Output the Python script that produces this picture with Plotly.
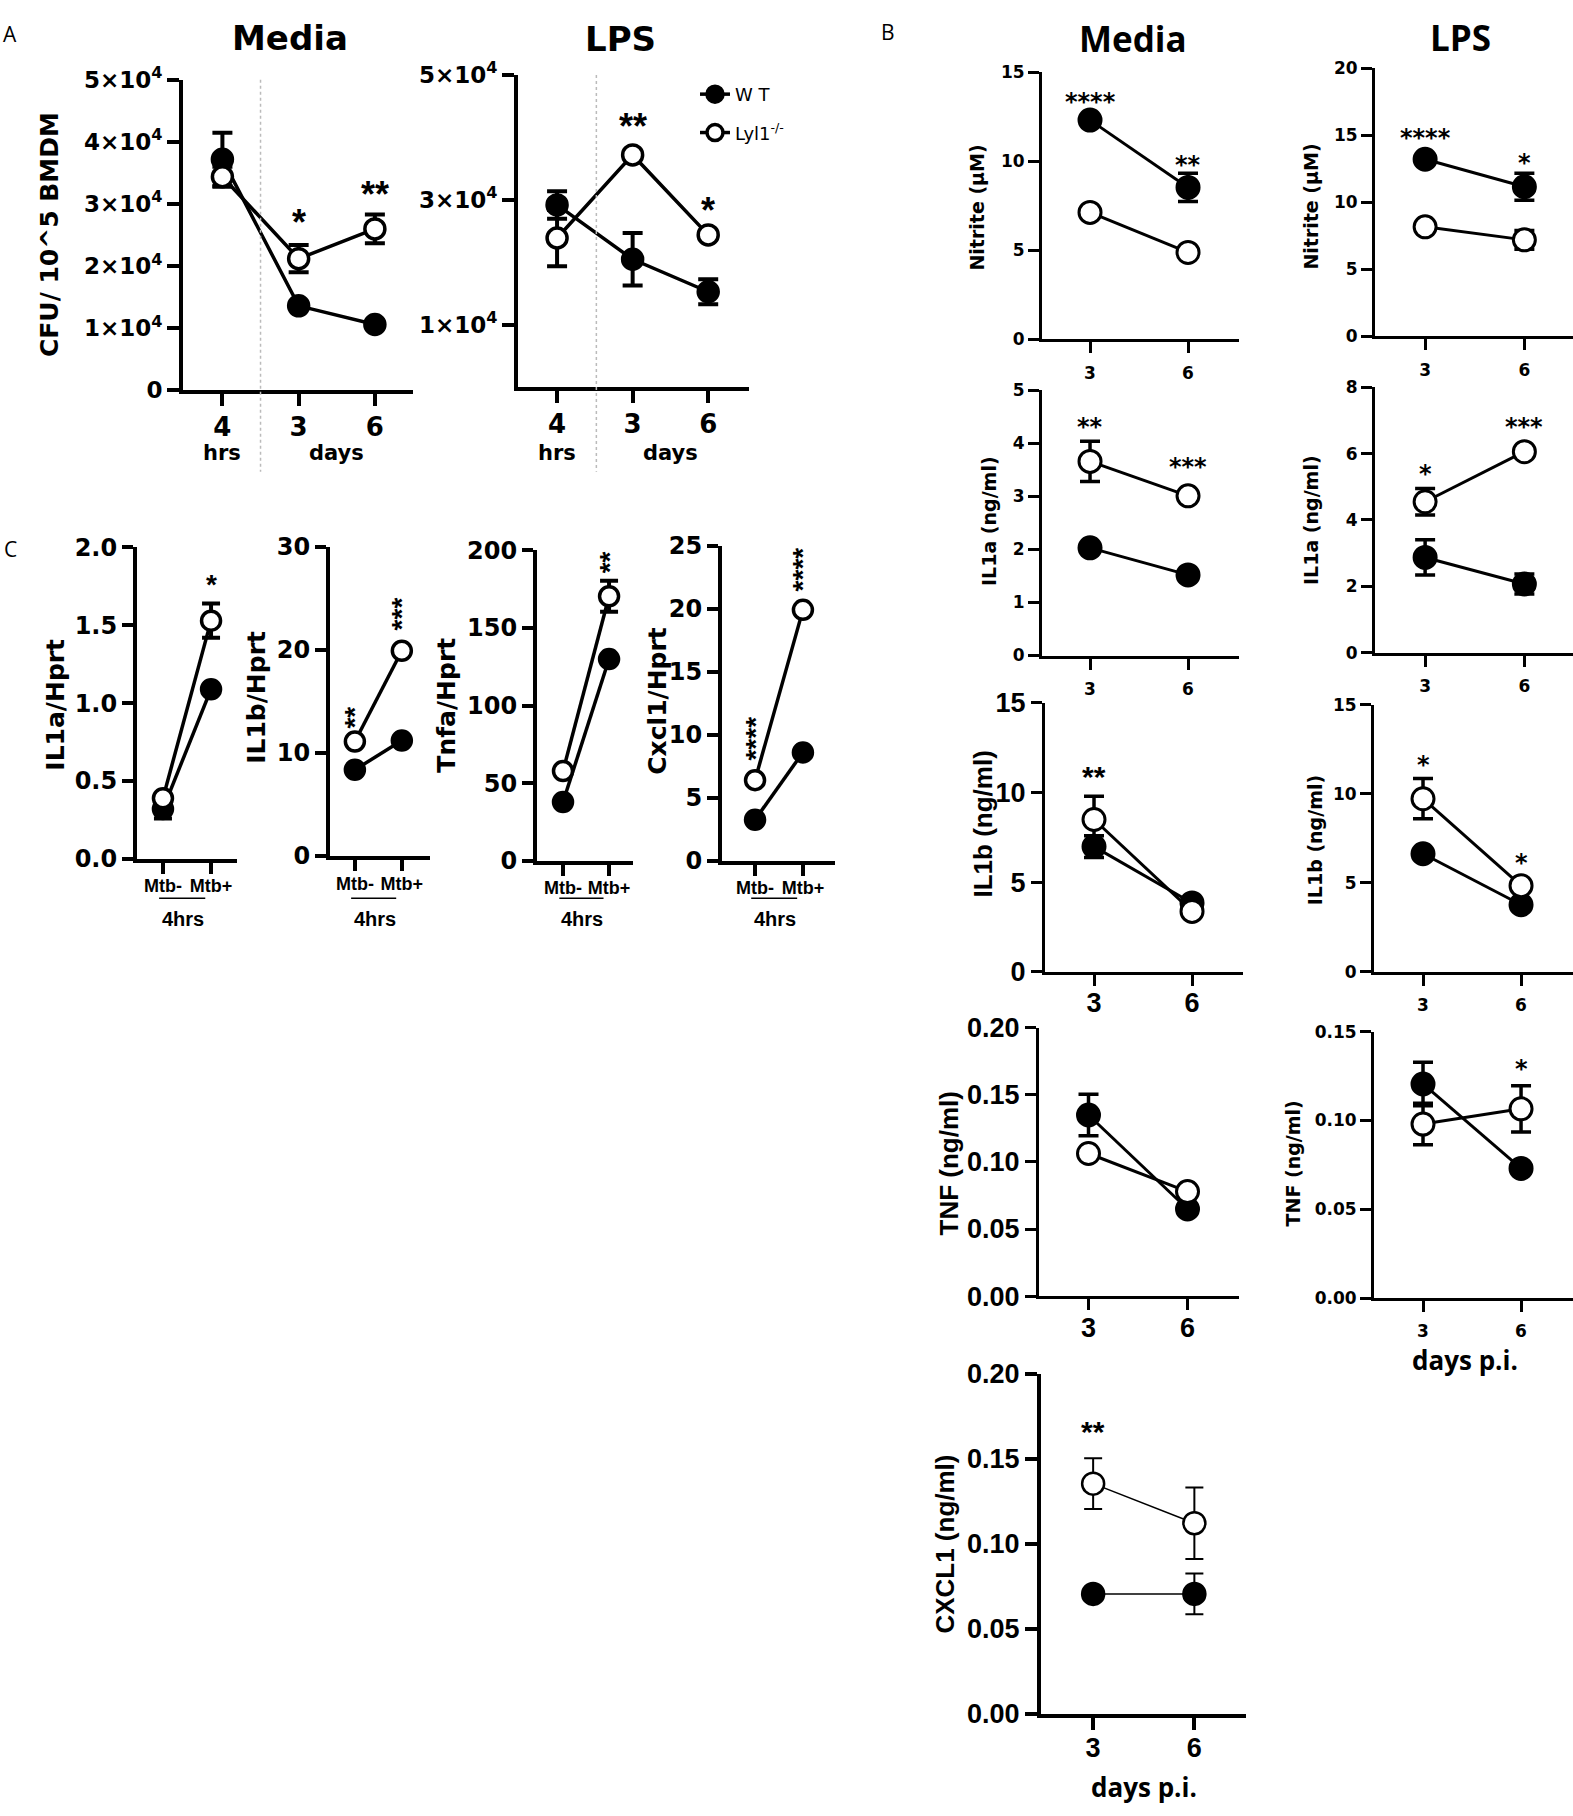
import plotly.graph_objects as go

W, H = 1573, 1816
F1 = "Liberation Sans"
FD = "DejaVu Sans"
F2 = "Open Sans"

# ---------------- data ----------------
# Panel A : CFU / 10^5 BMDM
a_ticks = ["4", "3", "6"]
a_media_wt = [37200, 13600, 10600]
a_media_wt_err = [4300, 0, 0]
a_media_ko = [34400, 21200, 26000]
a_media_ko_err = [1600, 2200, 2300]
a_lps_wt = [29200, 20500, 15300]
a_lps_wt_err = [2200, 4200, 2000]
a_lps_ko = [23900, 37200, 24400]
a_lps_ko_err = [4500, 0, 0]
a_media_yticks = [0, 10000, 20000, 30000, 40000, 50000]
a_lps_yticks = [10000, 30000, 50000]

# Panel C : gene expression / Hprt (4 hrs)
c_ticks = ["Mtb-", "Mtb+"]
c_il1a_wt = [0.32, 1.09]
c_il1a_wt_err = [0.06, 0]
c_il1a_ko = [0.39, 1.53]
c_il1a_ko_err = [0, 0.11]
c_il1b_wt = [8.35, 11.2]
c_il1b_ko = [11.1, 19.9]
c_tnfa_wt = [37.9, 130.0]
c_tnfa_ko = [57.9, 170.5]
c_tnfa_ko_err = [0, 10]
c_cxcl1_wt = [3.26, 8.6]
c_cxcl1_ko = [6.4, 19.9]

# Panel B : secreted mediators, days p.i.
b_ticks = ["3", "6"]
nit_media_wt = [12.3, 8.52]
nit_media_wt_err = [0, 0.79]
nit_media_ko = [7.12, 4.87]
nit_lps_wt = [13.2, 11.15]
nit_lps_wt_err = [0, 1.0]
nit_lps_ko = [8.16, 7.19]
nit_lps_ko_err = [0, 0.7]
il1a_media_wt = [2.03, 1.52]
il1a_media_ko = [3.66, 3.01]
il1a_media_ko_err = [0.38, 0]
il1a_lps_wt = [2.87, 2.07]
il1a_lps_wt_err = [0.53, 0.3]
il1a_lps_ko = [4.55, 6.06]
il1a_lps_ko_err = [0.4, 0]
il1b_media_wt = [6.98, 3.84]
il1b_media_wt_err = [0.6, 0]
il1b_media_ko = [8.49, 3.37]
il1b_media_ko_err = [1.3, 0]
il1b_lps_wt = [6.63, 3.77]
il1b_lps_ko = [9.72, 4.84]
il1b_lps_ko_err = [1.13, 0]
tnf_media_wt = [0.135, 0.0649]
tnf_media_wt_err = [0.0155, 0]
tnf_media_ko = [0.1063, 0.0779]
tnf_lps_wt = [0.1206, 0.073]
tnf_lps_wt_err = [0.0123, 0]
tnf_lps_ko = [0.098, 0.1066]
tnf_lps_ko_err = [0.0117, 0.013]
cxcl1_wt = [0.0704, 0.0704]
cxcl1_wt_err = [0, 0.012]
cxcl1_ko = [0.1353, 0.112]
cxcl1_ko_err = [0.015, 0.021]

series_names = ["W T", "Lyl1<sup>-/-</sup>"]

# ---------------- helpers ----------------
def fx(p):
    return p / W


def fy(p):
    return 1 - p / H


fig = go.Figure()
layout = {}
annotations = []
shapes = []

BIG = dict(lw=3.5, axw=4, ms=20, mlw=3.5, ew=4, cw=10, tl=12, tw=4)
MID = dict(lw=3.5, axw=4, ms=19, mlw=3.5, ew=4, cw=9, tl=11, tw=4)
SMALL = dict(lw=3, axw=3, ms=22, mlw=3, ew=3.5, cw=10, tl=11, tw=3)
THIN = dict(lw=1.5, axw=4, ms=22, mlw=2.5, ew=2, cw=9, tl=12, tw=4)

panel_count = [0]


def font(size, fam=FD, weight="bold"):
    return dict(family=fam, size=size, color="black", weight=weight)


def add_panel(xpx, ypx, xrange, yrange, xtext, ytickvals, yticktext,
              wt, wt_err, ko, ko_err, st, xfont, yfont, stars, star_font,
              star_angle=0, legend=False, standoff=0):
    panel_count[0] += 1
    n = panel_count[0]
    sfx = "" if n == 1 else str(n)
    xa, ya = "x" + sfx, "y" + sfx
    xs = list(range(len(wt)))
    for vals, errs in ((wt, wt_err), (ko, ko_err)):
        ex = [x for x, e in zip(xs, errs) if e > 0]
        ey = [v for v, e in zip(vals, errs) if e > 0]
        ee = [e for e in errs if e > 0]
        if ex:
            fig.add_trace(go.Scatter(
                x=ex, y=ey, mode="markers", xaxis=xa, yaxis=ya,
                marker=dict(size=1, opacity=0), showlegend=False, hoverinfo="skip",
                error_y=dict(type="data", array=ee, visible=True, color="black",
                             thickness=st["ew"], width=st["cw"]),
                cliponaxis=False))
    for i, (vals, fill) in enumerate(((wt, "black"), (ko, "white"))):
        fig.add_trace(go.Scatter(
            x=xs, y=vals, mode="lines+markers", xaxis=xa, yaxis=ya,
            name=series_names[i], legendgroup="g%d" % i,
            line=dict(color="black", width=st["lw"]),
            marker=dict(size=st["ms"], color=fill, symbol="circle",
                        line=dict(color="black", width=st["mlw"])),
            showlegend=legend, cliponaxis=False))
    layout["xaxis" + sfx] = dict(
        domain=[fx(xpx[0]), fx(xpx[1])], range=xrange, anchor=ya,
        tickvals=xs, ticktext=xtext, showline=True, linewidth=st["axw"],
        linecolor="black", ticks="outside", ticklen=st["tl"], tickwidth=st["tw"],
        tickcolor="black", showgrid=False, zeroline=False, fixedrange=True,
        tickfont=xfont, ticklabelstandoff=standoff)
    layout["yaxis" + sfx] = dict(
        domain=[fy(ypx[1]), fy(ypx[0])], range=yrange, anchor=xa,
        tickvals=ytickvals, ticktext=yticktext, showline=True, linewidth=st["axw"],
        linecolor="black", ticks="outside", ticklen=st["tl"], tickwidth=st["tw"],
        tickcolor="black", showgrid=False, zeroline=False, fixedrange=True,
        tickfont=yfont)
    for sx, sy, txt in stars:
        annotations.append(dict(x=sx, y=sy, xref=xa, yref=ya, text=txt,
                                showarrow=False, textangle=star_angle, font=star_font))
    return xa, ya


def text(x, y, t, fnt, angle=0, xref="paper", yref="paper"):
    annotations.append(dict(x=x, y=y, xref=xref, yref=yref, text=t, showarrow=False,
                            textangle=angle, xanchor="center", yanchor="middle",
                            font=fnt))


def sci(v):
    return "0" if v == 0 else "%d×10<sup>4</sup>" % round(v / 10000)


# ---------------- panel A ----------------
A_STAR = font(36, F1)
xa1, ya1 = add_panel((183, 413), (64, 380), [-0.517, 2.5], [0, 50000], a_ticks,
                     a_media_yticks, [sci(v) for v in a_media_yticks],
                     a_media_wt, a_media_wt_err, a_media_ko, a_media_ko_err, BIG,
                     font(26), font(23), [(1, 27000, "*"), (2, 31500, "**")], A_STAR,
                     legend=True, standoff=-2)
xa2, ya2 = add_panel((518, 749), (59, 377), [-0.517, 2.54], [0, 50000], a_ticks,
                     a_lps_yticks, [sci(v) for v in a_lps_yticks],
                     a_lps_wt, a_lps_wt_err, a_lps_ko, a_lps_ko_err, BIG,
                     font(26), font(23), [(1, 41800, "**"), (2, 28300, "*")], A_STAR,
                     standoff=-2)
for xa, top, xd in ((xa1, 64, 0.5), (xa2, 59, 0.52)):
    shapes.append(dict(type="line", xref=xa, yref="paper", x0=xd, x1=xd,
                       y0=fy(top), y1=fy(463),
                       line=dict(color="#bbbbbb", width=1.5, dash="dot")))
for xa in (xa1, xa2):
    text(0, fy(444), "hrs", font(21), xref=xa)
    text(1.5, fy(444), "days", font(21), xref=xa)
text(fx(49), fy(222), "CFU/ 10^5 BMDM", font(25), angle=-90)
text(fx(290), fy(21), "Media", font(34))
text(fx(620), fy(22), "LPS", font(34))
text(fx(10), fy(17), "A", font(21, F2, "normal"))

# ---------------- panel C ----------------
C_STAR = font(28, F1)
c_specs = [
    ((137, 237), (540, 857), [-0.54, 1.54], [0, 2], [0, 0.5, 1.0, 1.5, 2.0],
     ["0.0", "0.5", "1.0", "1.5", "2.0"], c_il1a_wt, c_il1a_wt_err, c_il1a_ko,
     c_il1a_ko_err, [(1, 1.76, "*")], 0, "IL1a/Hprt", 56, 700),
    ((330, 430), (539, 854), [-0.53, 1.6], [0, 30], [0, 10, 20, 30],
     ["0", "10", "20", "30"], c_il1b_wt, [0, 0], c_il1b_ko, [0, 0],
     [(0, 13.4, "**"), (1, 23.5, "***")], -90, "IL1b/Hprt", 257, 693),
    ((537, 633), (543, 859), [-0.565, 1.52], [0, 200], [0, 50, 100, 150, 200],
     ["0", "50", "100", "150", "200"], c_tnfa_wt, [0, 0], c_tnfa_ko, c_tnfa_ko_err,
     [(1, 192.4, "**")], -90, "Tnfa/Hprt", 447, 700),
    ((722, 835), (538, 859), [-0.69, 1.67], [0, 25], [0, 5, 10, 15, 20, 25],
     ["0", "5", "10", "15", "20", "25"], c_cxcl1_wt, [0, 0], c_cxcl1_ko, [0, 0],
     [(0, 9.7, "****"), (1, 23.1, "****")], -90, "Cxcl1/Hprt", 658, 696),
]
for (xp, yp, xr, yr, tv, tt, w, we, k, ke, st_, ang, lab, labx, laby) in c_specs:
    xa, ya = add_panel(xp, yp, xr, yr, c_ticks, tv, tt, w, we, k, ke, MID,
                       font(18, F1), font(24), st_, C_STAR, star_angle=ang, standoff=-3)
    shapes.append(dict(type="line", xref=xa, yref="paper", x0=-0.08, x1=0.88,
                       y0=fy(897), y1=fy(897), line=dict(color="black", width=1.5)))
    text(0.42, fy(918), "4hrs", font(20, F1), xref=xa)
    text(fx(labx), fy(laby), lab, font(25), angle=-90)
text(fx(10), fy(542), "C", font(21, F2, "normal"))

# ---------------- panel B ----------------
SM_T = font(17)
BG_T = font(27, F1)
SM_S = font(24)
BG_S = font(30, F1)
SM_L = font(19)
BG_L = font(26, F1)
b_specs = [
    ((1042, 1239), (56, 328), [-0.49, 1.52], [0, 15], [0, 5, 10, 15],
     ["0", "5", "10", "15"], nit_media_wt, nit_media_wt_err, nit_media_ko, [0, 0],
     [(0, 13.3, "****"), (1, 9.8, "**")], SM_S, SMALL, SM_T, "Nitrite (µM)", SM_L, 977, 194, 5),
    ((1375, 1573), (52, 325), [-0.505, 1.49], [0, 20], [0, 5, 10, 15, 20],
     ["0", "5", "10", "15", "20"], nit_lps_wt, nit_lps_wt_err, nit_lps_ko, nit_lps_ko_err,
     [(0, 14.8, "****"), (1, 12.9, "*")], SM_S, SMALL, SM_T, "Nitrite (µM)", SM_L, 1311, 193, 5),
    ((1042, 1239), (380, 650), [-0.49, 1.52], [0, 5], [0, 1, 2, 3, 4, 5],
     ["0", "1", "2", "3", "4", "5"], il1a_media_wt, [0, 0], il1a_media_ko, il1a_media_ko_err,
     [(0, 4.3, "**"), (1, 3.55, "***")], SM_S, SMALL, SM_T, "IL1a (ng/ml)", SM_L, 989, 513, 5),
    ((1375, 1573), (377, 647), [-0.505, 1.49], [0, 8], [0, 2, 4, 6, 8],
     ["0", "2", "4", "6", "8"], il1a_lps_wt, il1a_lps_wt_err, il1a_lps_ko, il1a_lps_ko_err,
     [(0, 5.4, "*"), (1, 6.8, "***")], SM_S, SMALL, SM_T, "IL1a (ng/ml)", SM_L, 1311, 512, 5),
    ((1045, 1243), (698, 972), [-0.5, 1.52], [0, 15], [0, 5, 10, 15],
     ["0", "5", "10", "15"], il1b_media_wt, il1b_media_wt_err, il1b_media_ko, il1b_media_ko_err,
     [(0, 10.9, "**")], BG_S, SMALL, BG_T, "IL1b (ng/ml)", BG_L, 983, 822, -6),
    ((1374, 1573), (700, 972), [-0.5, 1.53], [0, 15], [0, 5, 10, 15],
     ["0", "5", "10", "15"], il1b_lps_wt, [0, 0], il1b_lps_ko, il1b_lps_ko_err,
     [(0, 11.6, "*"), (1, 6.1, "*")], SM_S, SMALL, SM_T, "IL1b (ng/ml)", SM_L, 1315, 838, 5),
    ((1039, 1239), (1029, 1302), [-0.5, 1.52], [0, 0.2], [0, 0.05, 0.1, 0.15, 0.2],
     ["0.00", "0.05", "0.10", "0.15", "0.20"], tnf_media_wt, tnf_media_wt_err, tnf_media_ko, [0, 0],
     [], BG_S, SMALL, BG_T, "TNF (ng/ml)", BG_L, 949, 1167, -5),
    ((1374, 1573), (1033, 1304), [-0.5, 1.53], [0, 0.15], [0, 0.05, 0.1, 0.15],
     ["0.00", "0.05", "0.10", "0.15"], tnf_lps_wt, tnf_lps_wt_err, tnf_lps_ko, tnf_lps_ko_err,
     [(1, 0.129, "*")], SM_S, SMALL, SM_T, "TNF (ng/ml)", SM_L, 1293, 1167, 5),
    ((1041, 1246), (1381, 1727), [-0.515, 1.51], [0, 0.2], [0, 0.05, 0.1, 0.15, 0.2],
     ["0.00", "0.05", "0.10", "0.15", "0.20"], cxcl1_wt, cxcl1_wt_err, cxcl1_ko, cxcl1_ko_err,
     [(0, 0.166, "**")], BG_S, THIN, BG_T, "CXCL1 (ng/ml)", BG_L, 945, 1555, -5),
]
for (xp, yp, xr, yr, tv, tt, w, we, k, ke, st_, sfont, sty, tf, lab, lf, lx, ly, so) in b_specs:
    add_panel(xp, yp, xr, yr, b_ticks, tv, tt, w, we, k, ke, sty, tf, tf, st_, sfont,
              standoff=so)
    text(fx(lx), fy(ly), lab, lf, angle=-90)
text(fx(1465), fy(1367), "days p.i.", font(26, F2))
text(fx(1144), fy(1802), "days p.i.", font(26, F2))
text(fx(1133), fy(22), "Media", font(35, F2))
text(fx(1460), fy(21), "LPS", font(35, F2))
text(fx(888), fy(15), "B", font(21, F2, "normal"))

layout.update(dict(
    width=W, height=H, margin=dict(l=0, r=0, t=0, b=0, pad=0),
    paper_bgcolor="white", plot_bgcolor="white",
    font=dict(family=F1, color="black"),
    annotations=annotations, shapes=shapes,
    legend=dict(x=fx(695), y=fy(60), xanchor="left", yanchor="top",
                font=dict(family=FD, size=18, color="black"),
                bgcolor="rgba(0,0,0,0)", traceorder="grouped", tracegroupgap=12),
    showlegend=True,
))
fig.update_layout(**layout)
fig.write_html("out.html", config={"displayModeBar": False},
               post_script="document.body.style.margin='0';")
